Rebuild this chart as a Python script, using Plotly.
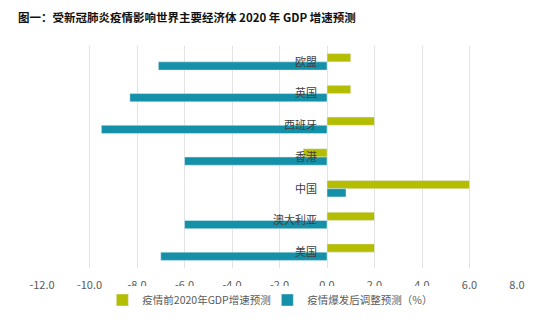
import plotly.graph_objects as go

categories = ["欧盟", "英国", "西班牙", "香港", "中国", "澳大利亚", "美国"]
pre_forecast = [1.0, 1.0, 2.0, -1.0, 6.0, 2.0, 2.0]
post_forecast = [-7.1, -8.3, -9.5, -6.0, 0.8, -6.0, -7.0]
x_ticks = [-12, -10, -8, -6, -4, -2, 0, 2, 4, 6, 8]
series_names = ["疫情前2020年GDP增速预测", "疫情爆发后调整预测（%）"]
title_text = "图一：受新冠肺炎疫情影响世界主要经济体 2020 年 GDP 增速预测"

FONT = "Noto Sans CJK SC"
GREEN = "#b5bd00"
BLUE = "#1490a8"

fig = go.Figure()
fig.add_trace(go.Bar(y=categories, x=pre_forecast, orientation="h",
                     name=series_names[0], marker_color=GREEN))
fig.add_trace(go.Bar(y=categories, x=post_forecast, orientation="h",
                     name=series_names[1], marker_color=BLUE))

fig.update_layout(
    width=552, height=329,
    margin=dict(l=42, r=35, t=46, b=61, autoexpand=False),
    paper_bgcolor="white", plot_bgcolor="white",
    barmode="group", bargap=0.48, bargroupgap=0,
    font=dict(family=FONT, size=11, color="#595959"),
    title=dict(text="<b>" + title_text + "</b>", x=18 / 552, xanchor="left",
               xref="container", y=0.945, yanchor="middle",
               font=dict(family=FONT, size=11.5, color="#111111")),
    xaxis=dict(range=[-12, 8], tickvals=x_ticks,
               ticktext=[f"{v:.1f}" for v in x_ticks],
               showgrid=True, gridcolor="#e3e3e3", gridwidth=1,
               zeroline=False, showline=False, ticks="",
               ticklabelstandoff=9,
               tickfont=dict(family=FONT, size=11, color="#595959")),
    yaxis=dict(categoryorder="array", categoryarray=categories,
               autorange="reversed", anchor="free", position=0.6,
               showgrid=False, zeroline=False, showline=False, ticks="",
               ticklabelstandoff=10,
               tickfont=dict(family=FONT, size=11, color="#404040")),
    legend=dict(orientation="h", x=0.127, xanchor="left",
                yref="container", y=1 - 300 / 329,
                yanchor="middle", font=dict(family=FONT, size=10.5, color="#595959"),
                itemwidth=30, traceorder="normal", entrywidth=120),
)

fig.write_html("out.html")
